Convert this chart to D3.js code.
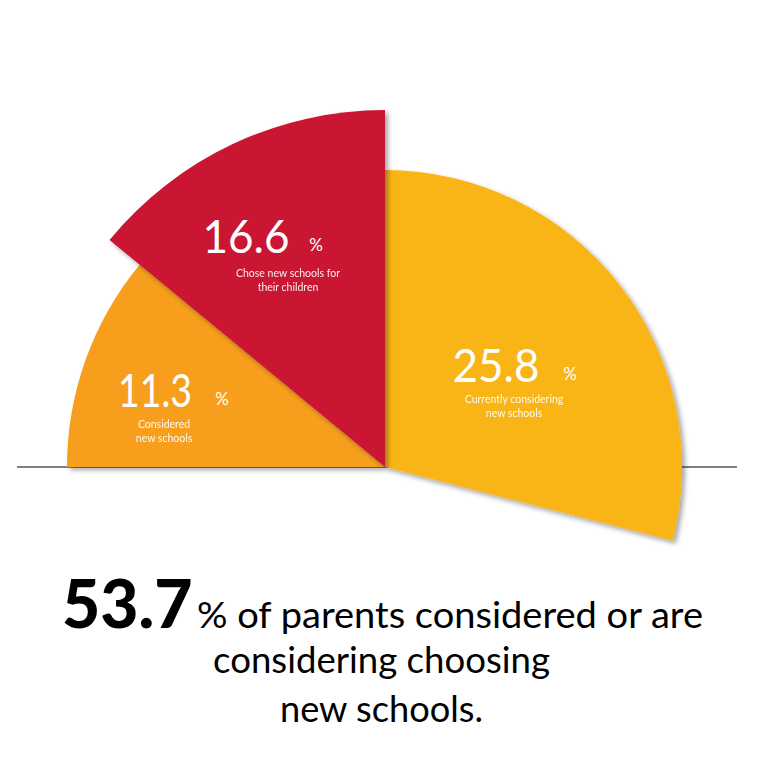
<!DOCTYPE html>
<html><head><meta charset="utf-8">
<script src="https://cdn.jsdelivr.net/npm/d3@7"></script>
<style>html,body{margin:0;padding:0;background:#fff;}svg{display:block;}</style>
</head><body>
<svg id="chart" width="768" height="768"></svg>
<script>
// ---- data ----
const categories = ["Considered new schools", "Chose new schools for their children", "Currently considering new schools"];
const labelLines = [["Considered", "new schools"], ["Chose new schools for", "their children"], ["Currently considering", "new schools"]];
const values = [11.3, 16.6, 25.8];
// wedge geometry (degrees, d3 convention: 0 = up, clockwise) and outer radius
const startDeg = [-90, -50.5, 0];
const endDeg = [-50.5, 0, 104.4];
const outerR = [318, 357, 297];
const colors = ["#F79F1E", "#CA1430", "#F9B418"];
const headlineRest = ["% of parents considered or are", "considering choosing", "new schools."];

const svg = d3.select("#chart");
const font = "Lato, 'Open Sans', sans-serif";
const cx = 385, cy = 467;

const defs = svg.append("defs");
const f = defs.append("filter").attr("id", "sh").attr("x", "-20%").attr("y", "-20%").attr("width", "140%").attr("height", "140%");
f.append("feDropShadow").attr("dx", 3).attr("dy", 3).attr("stdDeviation", 2.5).attr("flood-color", "#000").attr("flood-opacity", 0.35);

// baseline
svg.append("line").attr("x1", 17).attr("x2", 737).attr("y1", cy).attr("y2", cy)
  .attr("stroke", "#555").attr("stroke-width", 1.5);

const g = svg.append("g").attr("transform", `translate(${cx},${cy})`);
const rad = d => d * Math.PI / 180;
const data = values.map((v, i) => ({v, i, startAngle: rad(startDeg[i]), endAngle: rad(endDeg[i]), r: outerR[i]}));
const arc = d3.arc().innerRadius(0).outerRadius(d => d.r);
const order = [2, 0, 1];
g.selectAll("path.w").data(order.map(i => data[i])).join("path")
  .attr("class", "w").attr("d", arc).attr("fill", d => colors[d.i]).attr("filter", "url(#sh)");

// labels
const labelPos = [
  {x: 164, y: 407, sub: 428},
  {x: 288, y: 253, sub: 277},
  {x: 514, y: 382, sub: 403}
];
const numX = [[155, 222], [246, 316], [496, 570]];
const numW = [74, 87, 87];
values.forEach((v, i) => {
  const p = labelPos[i];
  svg.append("text").attr("x", numX[i][0]).attr("y", p.y).attr("text-anchor", "middle")
    .attr("font-family", font).attr("font-size", 47).attr("font-weight", 400).attr("fill", "#fff")
    .attr("textLength", numW[i]).attr("lengthAdjust", "spacingAndGlyphs").text(v.toFixed(1));
  svg.append("text").attr("x", numX[i][1]).attr("y", p.y - 2).attr("text-anchor", "middle")
    .attr("font-family", font).attr("font-size", 17).attr("fill", "#fff").text("%");
  labelLines[i].forEach((t, j) => {
    svg.append("text").attr("x", p.x).attr("y", p.sub + j * 14).attr("text-anchor", "middle")
      .attr("font-family", font).attr("font-size", 10.5).attr("fill", "#fff").attr("opacity", 0.92).text(t);
  });
});

// headline
const total = d3.sum(values).toFixed(1);
const h1 = svg.append("text").attr("y", 628).attr("font-family", font).attr("fill", "#000");
h1.append("tspan").attr("x", 62).attr("font-size", 66).attr("font-weight", 900).text(total);
svg.append("text").attr("x", 197).attr("y", 628).attr("font-family", font).attr("font-size", 36)
  .attr("textLength", 506).attr("lengthAdjust", "spacingAndGlyphs").attr("fill", "#000").text(headlineRest[0]);
svg.append("text").attr("x", 213).attr("y", 673).attr("font-family", font)
  .attr("font-size", 36).attr("textLength", 337).attr("lengthAdjust", "spacingAndGlyphs").attr("fill", "#000").text(headlineRest[1]);
svg.append("text").attr("x", 280).attr("y", 722).attr("font-family", font)
  .attr("font-size", 36).attr("textLength", 203).attr("lengthAdjust", "spacingAndGlyphs").attr("fill", "#000").text(headlineRest[2]);
</script>
</body></html>
